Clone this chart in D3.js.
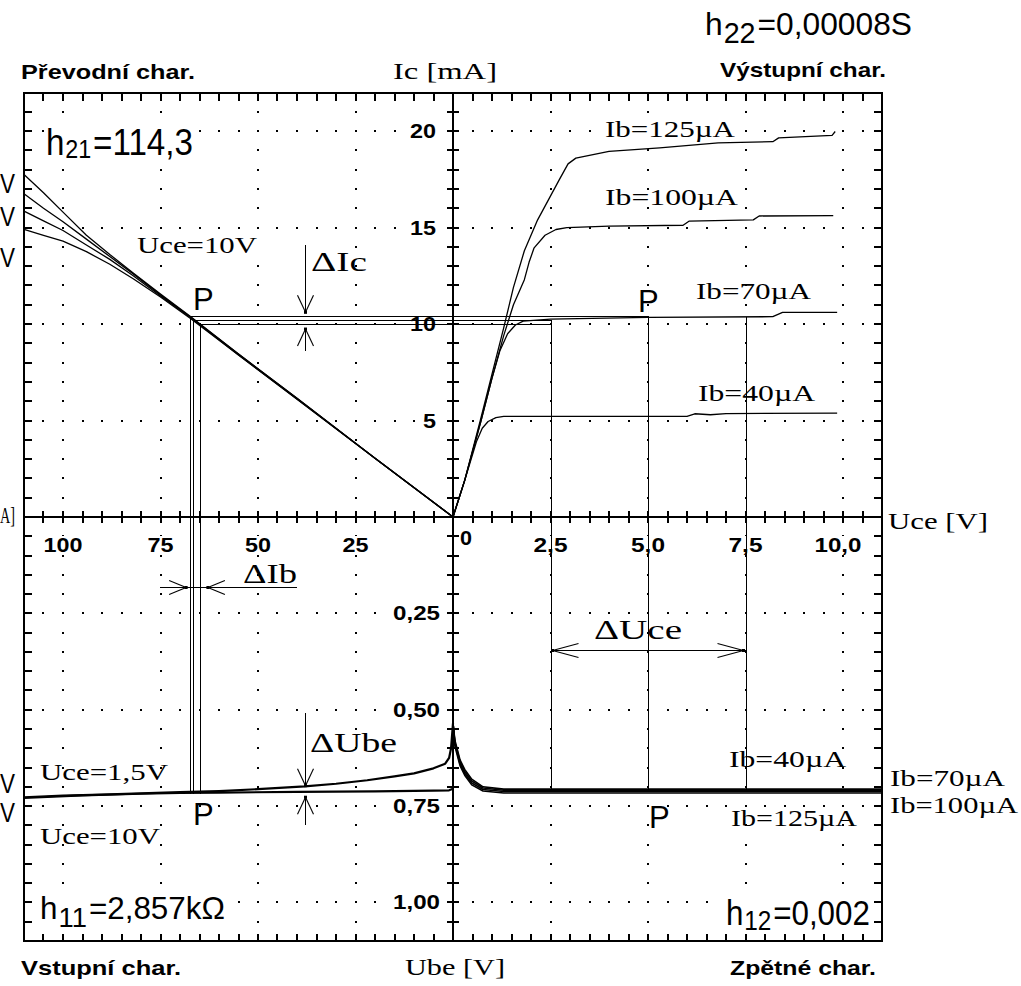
<!DOCTYPE html>
<html>
<head>
<meta charset="utf-8">
<script src="https://cdn.jsdelivr.net/npm/d3@7"></script>
<style>
  html, body { margin: 0; padding: 0; background: #fff; }
  svg { display: block; }
</style>
</head>
<body>
<script>
// ---------- data ----------
// Output characteristics Ic = f(Uce) for base currents  [Uce V, Ic mA]
const outIb125 = [[0,0],[0.3,1.9],[0.7,5.0],[1.0,7.4],[1.3,9.8],[1.55,11.9],[1.83,13.8],[2.17,15.4],[2.45,16.45],[2.73,17.5],[2.95,18.3],[3.15,18.6],[4.0,18.95],[5.3,19.13],[6.8,19.39],[8.2,19.45],[8.35,19.65],[9.72,19.78],[9.8,19.98]];
const outIb100 = [[0,0],[0.3,1.9],[0.72,5.0],[1.0,7.2],[1.3,9.4],[1.55,11.0],[1.83,12.3],[1.95,13.2],[2.08,13.95],[2.36,14.6],[2.64,14.9],[2.92,15.0],[4.0,15.07],[5.9,15.12],[6.05,15.33],[7.7,15.4],[7.85,15.6],[9.75,15.62]];
const outIb70  = [[0,0],[0.3,1.9],[0.72,5.0],[1.0,7.2],[1.2,8.6],[1.4,9.5],[1.6,9.95],[1.8,10.15],[2.5,10.25],[5.0,10.35],[8.2,10.38],[8.45,10.6],[9.85,10.6]];
const outIb40  = [[0,0],[0.3,1.9],[0.6,3.9],[0.75,4.6],[0.9,4.95],[1.1,5.15],[1.3,5.22],[6.0,5.22],[6.2,5.35],[6.6,5.3],[7.0,5.36],[9.85,5.38]];

// Transfer characteristics Ic = f(Ib)  [Ib uA, Ic mA]
const trUce10  = [[0,0],[20,3.05],[40,6.15],[55,8.45],[67.4,10.4],[75,11.55],[82,12.65],[88,13.6],[94,14.6],[100,15.8],[105,16.8],[110,17.75]];
const trUce75  = [[0,0],[20,3.05],[40,6.15],[55,8.45],[67.4,10.38],[75,11.5],[82,12.6],[88,13.5],[94,14.4],[100,15.3],[105,16.0],[110,16.75]];
const trUce5   = [[0,0],[20,3.05],[40,6.12],[55,8.4],[67.4,10.35],[75,11.45],[82,12.5],[88,13.35],[94,14.1],[100,14.85],[105,15.35],[110,15.85]];
const trUce25  = [[0,0],[20,3.05],[40,6.1],[55,8.4],[67.4,10.3],[75,11.4],[82,12.35],[88,13.1],[94,13.75],[100,14.3],[105,14.6],[110,14.9]];

// Input characteristics Ube = f(Ib)  [Ib uA, Ube V]
const inUce15 = [[0,0.535],[0.5,0.6],[1,0.625],[2,0.64],[5,0.652],[10,0.665],[15,0.673],[22,0.683],[30,0.692],[38,0.699],[50,0.706],[60,0.711],[70,0.714],[80,0.717],[90,0.72],[100,0.723],[110,0.727]];
const inUce10 = [[0,0.705],[1,0.709],[5,0.71],[20,0.712],[40,0.713],[60,0.715],[70,0.716],[80,0.718],[95,0.722],[110,0.729]];

// Feedback characteristics Ube = f(Uce)  [Uce V, Ube V]
const fbIb40  = [[0,0.535],[0.05,0.58],[0.18,0.63],[0.3,0.655],[0.48,0.68],[0.77,0.7],[1.3,0.706],[11,0.706]];
const fbIb70  = [[0,0.535],[0.05,0.585],[0.18,0.635],[0.3,0.66],[0.48,0.685],[0.77,0.703],[1.3,0.709],[11,0.709]];
const fbIb100 = [[0,0.535],[0.05,0.59],[0.18,0.64],[0.3,0.665],[0.48,0.69],[0.77,0.707],[1.3,0.712],[11,0.712]];
const fbIb125 = [[0,0.535],[0.05,0.595],[0.18,0.645],[0.3,0.67],[0.48,0.695],[0.77,0.711],[1.3,0.716],[11,0.716]];

// Operating point and the increments used for the h-parameters
const opIb = [67.4, 66.6, 64.9];      // uA
const opIc = [10.4, 10.23, 10.0];     // mA
const opUce = [2.5, 5.0, 7.5];        // V
const opUbe = 0.714;                  // V

// Tick labels
const icTicks  = [5, 10, 15, 20];
const icLabels = ["5", "10", "15", "20"];
const ubeTicks  = [0.25, 0.5, 0.75, 1.0];
const ubeLabels = ["0,25", "0,50", "0,75", "1,00"];
const ibTicks  = [25, 50, 75, 100];
const ibLabels = ["25", "50", "75", "100"];
const uceTicks  = [2.5, 5, 7.5, 10];
const uceLabels = ["2,5", "5,0", "7,5", "10,0"];

// ---------- layout ----------
const W = 1021, H = 986;
const X0 = 24, XC = 453, X1 = 882;
const Y0 = 92.5, YC = 517, Y1 = 941;

const xIb = d3.scaleLinear().domain([0, 110]).range([XC, X0]);
const xU  = d3.scaleLinear().domain([0, 11]).range([XC, X1]);
const yIc = d3.scaleLinear().domain([0, 22]).range([YC, Y0]);
const yUb = d3.scaleLinear().domain([0, 1.1]).range([YC, Y1]);

const ibMinor  = d3.range(1, 22).map(i => i * 5);
const uceMinor = d3.range(1, 22).map(i => i * 0.5);
const icMinor  = d3.range(1, 22);
const ubeMinor = d3.range(1, 22).map(i => +(i * 0.05).toFixed(2));

const SANS = "'Liberation Sans', Arial, sans-serif";
const SERIF = "'Liberation Serif', 'Times New Roman', serif";
const px = v => Math.round(v) + 0.5;   // centre of a pixel for 1px crisp lines

const svg = d3.select("body").append("svg")
  .attr("width", W).attr("height", H)
  .attr("viewBox", `0 0 ${W} ${H}`);
svg.append("rect").attr("width", W).attr("height", H).attr("fill", "#fff");

// ---------- dotted grid ----------
const gDots = svg.append("g").attr("fill", "#000").attr("shape-rendering", "crispEdges");
function dot(x, y) {
  gDots.append("rect").attr("x", Math.round(x) - 1).attr("y", Math.round(y) - 1)
    .attr("width", 2).attr("height", 2);
}
ibTicks.forEach(v => { icMinor.forEach(c => dot(xIb(v), yIc(c))); ubeMinor.forEach(u => dot(xIb(v), yUb(u))); });
uceTicks.forEach(v => { icMinor.forEach(c => dot(xU(v), yIc(c))); ubeMinor.forEach(u => dot(xU(v), yUb(u))); });
icTicks.forEach(c => { ibMinor.forEach(b => dot(xIb(b), yIc(c))); uceMinor.forEach(u => dot(xU(u), yIc(c))); });
ubeTicks.forEach(u => { ibMinor.forEach(b => dot(xIb(b), yUb(u))); uceMinor.forEach(v => dot(xU(v), yUb(u))); });

// ---------- text helpers ----------
const gText = svg.append("g");
function label(str, x, y, o) {
  const t = gText.append("text").attr("x", x).attr("y", y)
    .attr("font-family", o.fam || SANS)
    .attr("font-size", o.size || 18)
    .attr("font-weight", o.bold ? "bold" : "normal")
    .attr("text-anchor", o.anchor || "start")
    .attr("fill", "#000")
    .text(str);
  if (o.len) t.attr("textLength", o.len).attr("lengthAdjust", o.adj || "spacingAndGlyphs");
  if (o.bg) {
    const b = t.node().getBBox();
    gText.insert("rect", () => t.node())
      .attr("x", b.x - 2).attr("y", b.y + 2).attr("width", b.width + 4).attr("height", b.height - 3)
      .attr("fill", "#fff");
  }
  return t;
}
// h-parameter label with subscript, squeezed to a given width
function hLabel(sub, rest, x, y, size, subSize, subDy, width, bg) {
  const t = gText.append("text").attr("x", x).attr("y", y)
    .attr("font-family", SANS).attr("font-size", size).attr("fill", "#000");
  t.append("tspan").text("h");
  t.append("tspan").attr("font-size", subSize).attr("dy", subDy).attr("dx", 1).text(sub);
  t.append("tspan").attr("dy", -subDy).attr("dx", 2).text(rest);
  const b = t.node().getBBox();
  const sx = width / b.width;
  t.attr("transform", `translate(${x},0) scale(${sx},1) translate(${-x},0)`);
  if (bg) {
    gText.insert("rect", () => t.node())
      .attr("x", x + (b.x - x) * sx - 2).attr("y", b.y + 3)
      .attr("width", b.width * sx + 4).attr("height", b.height - 4).attr("fill", "#fff");
  }
  return t;
}

// ---------- axis tick labels ----------
const tickFont = { bold: true, size: 20, bg: true };
const digitW = s => s.replace(/[^0-9]/g, "").length * 13 + (s.includes(",") ? 8 : 0);
icTicks.forEach((v, i) => label(icLabels[i], 436, yIc(v) + 7, { ...tickFont, anchor: "end", len: digitW(icLabels[i]) }));
ubeTicks.forEach((v, i) => label(ubeLabels[i], 440, yUb(v) + 7, { ...tickFont, anchor: "end", len: digitW(ubeLabels[i]) }));
ibTicks.forEach((v, i) => label(ibLabels[i], xIb(v), 552, { ...tickFont, anchor: "middle", len: digitW(ibLabels[i]) }));
uceTicks.forEach((v, i) => label(uceLabels[i], xU(v) - (i === 3 ? 5 : 0), 552, { ...tickFont, anchor: "middle", len: digitW(uceLabels[i]) }));
label("0", 460, 545, { ...tickFont, len: 12 });

// ---------- titles and axis names ----------
const head1 = { bold: true, size: 21 };
label("Převodní char.", 21, 79, { ...head1, len: 174 });
label("Výstupní char.", 720, 77, { ...head1, len: 166 });
label("Vstupní char.", 21, 975, { ...head1, len: 160 });
label("Zpětné char.", 730, 975, { ...head1, len: 146 });

const axName = { fam: SERIF, size: 24 };
label("Ic [mA]", 393, 79, { ...axName, len: 104 });
label("Uce [V]", 888, 529, { ...axName, len: 100 });
label("Ube [V]", 405, 975, { ...axName, len: 100 });
label("A]", 0, 523, { ...axName, len: 15 });

// ---------- h-parameters ----------
hLabel("22", "=0,00008S", 705, 35, 32, 29, 8, 207, false);
hLabel("21", "=114,3", 46, 155, 37, 26, 3, 147, true);
hLabel("11", "=2,857kΩ", 40, 919, 31, 27, 8, 185, true);
hLabel("12", "=0,002", 726, 925, 36, 28, 5, 144, true);

// ---------- curve labels ----------
const cl = { fam: SERIF, size: 23 };
label("Ib=125µA", 605, 137, { ...cl, len: 130, bg: true });
label("Ib=100µA", 605, 205, { ...cl, len: 133 });
label("Ib=70µA", 696, 299, { ...cl, len: 115 });
label("Ib=40µA", 698, 401, { ...cl, len: 117 });
label("Uce=10V", 137, 253, { ...cl, len: 120, bg: true });
// right ends of the Uce labels of the transfer and input curves at the left edge
[193, 226, 267, 793, 822].forEach(y => label("V", 0, y, { size: 28, len: 15 }));
label("Uce=1,5V", 40, 780, { ...cl, len: 128 });
label("Uce=10V", 40, 844, { ...cl, len: 120 });
label("Ib=40µA", 729, 767, { ...cl, len: 117 });
label("Ib=70µA", 890, 786, { ...cl, len: 115 });
label("Ib=100µA", 890, 813, { ...cl, len: 128 });
label("Ib=125µA", 731, 826, { ...cl, len: 126 });

label("P", 193, 310, { size: 31 });
label("P", 638, 312, { size: 31 });
label("P", 193, 825, { size: 31 });
label("P", 649, 828, { size: 31 });

const dl = { fam: SERIF, size: 27 };
label("ΔIc", 311, 271, { ...dl, len: 56 });
label("ΔIb", 243, 583, { ...dl, len: 54 });
label("ΔUbe", 310, 752, { ...dl, len: 87 });
label("ΔUce", 594, 639, { ...dl, len: 88 });

// ---------- curves ----------
const gCurves = svg.append("g").attr("fill", "none").attr("stroke", "#000").attr("stroke-linejoin", "round");
const lineOut = d3.line().x(d => xU(d[0])).y(d => yIc(d[1]));
const lineTr  = d3.line().x(d => xIb(d[0])).y(d => yIc(d[1]));
const lineIn  = d3.line().x(d => xIb(d[0])).y(d => yUb(d[1]));
const lineFb  = d3.line().x(d => xU(d[0])).y(d => yUb(d[1]));

[outIb125, outIb100, outIb70, outIb40].forEach(s => gCurves.append("path").attr("d", lineOut(s)).attr("stroke-width", 1.3));
[trUce10, trUce75, trUce5, trUce25].forEach(s => gCurves.append("path").attr("d", lineTr(s)).attr("stroke-width", 1.3));
[inUce15, inUce10].forEach(s => gCurves.append("path").attr("d", lineIn(s)).attr("stroke-width", 2.2));
[fbIb40, fbIb70, fbIb100, fbIb125].forEach(s => gCurves.append("path").attr("d", lineFb(s)).attr("stroke-width", 1.6));

// ---------- operating point construction ----------
const gCon = svg.append("g").attr("stroke", "#000").attr("stroke-width", 1).attr("shape-rendering", "crispEdges");
function seg(x1, y1, x2, y2) {
  gCon.append("line").attr("x1", px(x1)).attr("y1", px(y1)).attr("x2", px(x2)).attr("y2", px(y2));
}
// horizontals from the transfer curve to the output curves
seg(xIb(opIb[0]), yIc(opIc[0]), xU(opUce[1]), yIc(opIc[0]));
seg(xIb(opIb[1]), yIc(opIc[1]), xU(opUce[0]), yIc(opIc[1]));
seg(xIb(opIb[2]), yIc(opIc[2]), xU(opUce[0]), yIc(opIc[2]));
// verticals down to the input curves
opIb.forEach((b, i) => seg(xIb(b), yIc(opIc[i]), xIb(b), yUb(opUbe + 0.002)));
// verticals in the output / feedback quadrants
seg(xU(opUce[0]), yIc(opIc[1]), xU(opUce[0]), yUb(opUbe - 0.006));
seg(xU(opUce[1]), yIc(opIc[0]), xU(opUce[1]), yUb(opUbe - 0.006));
seg(xU(opUce[2]), yIc(opIc[0]), xU(opUce[2]), yUb(opUbe - 0.006));

// ---------- increment arrows ----------
const gArr = svg.append("g").attr("stroke", "#000").attr("stroke-width", 1.1);
function head(x, y, dx, dy, len, spread) {
  // dx,dy: unit direction of the arrow (towards the tip)
  const bx = x - dx * len, by = y - dy * len;
  const ox = -dy * spread, oy = dx * spread;
  gArr.append("line").attr("x1", bx + ox).attr("y1", by + oy).attr("x2", x).attr("y2", y);
  gArr.append("line").attr("x1", bx - ox).attr("y1", by - oy).attr("x2", x).attr("y2", y);
  gArr.append("rect").attr("x", x - 1.5).attr("y", y - 1.5).attr("width", 3).attr("height", 3)
    .attr("fill", "#000").attr("stroke", "none");
}
function arrLine(x1, y1, x2, y2) {
  gArr.append("line").attr("x1", x1).attr("y1", y1).attr("x2", x2).attr("y2", y2).attr("shape-rendering", "crispEdges");
}

// delta Ic
const xdI = px(xIb(38));
arrLine(xdI, yIc(14.1), xdI, yIc(opIc[0]) - 4); head(xdI, yIc(opIc[0]) - 4, 0, 1, 17, 8);
arrLine(xdI, yIc(8.6), xdI, yIc(opIc[2]) + 5); head(xdI, yIc(opIc[2]) + 5, 0, -1, 17, 8);
// delta Ib
const yDb = px(yUb(0.181));
arrLine(xIb(75.2), yDb, xIb(40), yDb);
head(xIb(opIb[0]) - 4, yDb, 1, 0, 17, 7);
head(xIb(opIb[2]) + 8, yDb, -1, 0, 17, 7);
// delta Ube
arrLine(xdI, yUb(0.509), xdI, yUb(0.697)); head(xdI, yUb(0.697), 0, 1, 17, 8);
arrLine(xdI, yUb(0.799), xdI, yUb(0.727)); head(xdI, yUb(0.727), 0, -1, 17, 8);
// delta Uce
const yDu = px(yUb(0.345));
arrLine(xU(opUce[0]), yDu, xU(opUce[2]), yDu);
head(xU(opUce[0]) + 2, yDu, -1, 0, 26, 7);
head(xU(opUce[2]) - 2, yDu, 1, 0, 26, 7);

// ---------- frame, axes and ticks ----------
const gAx = svg.append("g").attr("stroke", "#000").attr("shape-rendering", "crispEdges");
function tk(x1, y1, x2, y2, w) { gAx.append("line").attr("x1", x1).attr("y1", y1).attr("x2", x2).attr("y2", y2).attr("stroke-width", w || 2); }
const bx = [...ibMinor.map(v => xIb(v)), ...uceMinor.map(v => xU(v))].map(Math.round);
const by = [...icMinor.map(v => yIc(v)), ...ubeMinor.map(v => yUb(v))].map(Math.round);
bx.forEach(x => { tk(x, Y0, x, Y0 + 8); tk(x, Y1, x, Y1 - 7); tk(x, YC - 6, x, YC + 6); });
by.forEach(y => { tk(X0, y, X0 + 8, y); tk(X1, y, X1 - 8, y); tk(XC - 6, y, XC + 6, y); });
tk(XC, Y0, XC, Y1, 2);
tk(X0, YC, X1, YC, 2);
gAx.append("rect").attr("x", X0).attr("y", Y0).attr("width", X1 - X0).attr("height", Y1 - Y0)
  .attr("fill", "none").attr("stroke-width", 2);
</script>
</body>
</html>
